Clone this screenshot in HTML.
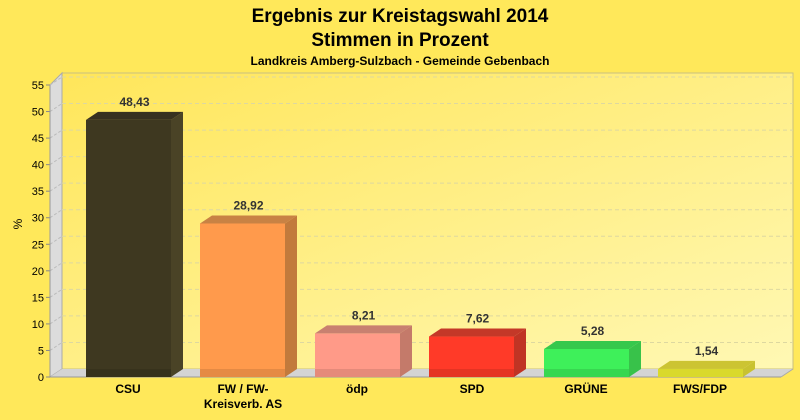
<!DOCTYPE html>
<html><head><meta charset="utf-8"><style>
body{margin:0;background:#ffe85a;}
svg{display:block;font-family:"Liberation Sans",sans-serif;}
</style></head><body>
<svg id="s" width="800" height="420" xmlns="http://www.w3.org/2000/svg">
<defs>
<linearGradient id="bg" x1="0" y1="0" x2="1" y2="1">
<stop offset="0" stop-color="#ffe65a"/><stop offset="1" stop-color="#fff8b4"/>
</linearGradient>
</defs>
<rect width="800" height="420" fill="#ffe85a"/>
<text x="400" y="22" font-size="19" font-weight="bold" text-anchor="middle">Ergebnis zur Kreistagswahl 2014</text>
<text x="400" y="46" font-size="19" font-weight="bold" text-anchor="middle">Stimmen in Prozent</text>
<text x="400" y="65" font-size="12" font-weight="bold" text-anchor="middle">Landkreis Amberg-Sulzbach - Gemeinde Gebenbach</text>
<rect x="62" y="73" width="731" height="296" fill="url(#bg)" stroke="#c8c080" stroke-width="1"/>
<polygon points="50,85 62,73 62,369 50,377" fill="#dcdcdc" stroke="#aaa" stroke-width="1"/>
<polygon points="50,377 62,369 793,369 781,377" fill="#d4d4d4"/>
<line x1="50" y1="377" x2="781" y2="377" stroke="#999"/>
<line x1="781" y1="377" x2="793" y2="369" stroke="#aaa"/>
<g id="grid"></g>
<g id="bars"></g>
<text x="22" y="224" font-size="12" text-anchor="middle" transform="rotate(-90 22 224)">%</text>
<g font-size="12" font-weight="bold" text-anchor="middle">
<text x="128" y="393">CSU</text>
<text x="243" y="393">FW / FW-</text>
<text x="243" y="408">Kreisverb. AS</text>
<text x="357" y="393">ödp</text>
<text x="472" y="393">SPD</text>
<text x="586" y="393">GRÜNE</text>
<text x="700" y="393">FWS/FDP</text>
</g>
</svg>
<script>
var ns="http://www.w3.org/2000/svg";
function el(p,t,a,txt){var e=document.createElementNS(ns,t);for(var k in a)e.setAttribute(k,a[k]);if(txt!=null)e.textContent=txt;p.appendChild(e);return e;}
var g=document.getElementById('grid');
function Y(v){return 377-5.309*v;}
for(var v=0;v<=55;v+=5){var y=Y(v);
 if(v>0){el(g,'line',{x1:62,y1:y-8,x2:793,y2:y-8,stroke:'#ddd8a0','stroke-dasharray':'4,3'});
 el(g,'line',{x1:50,y1:y,x2:62,y2:y-8,stroke:'#bbb','stroke-dasharray':'3,2'});}
 el(g,'line',{x1:46,y1:y,x2:50,y2:y,stroke:'#888'});
 el(g,'text',{x:44,y:y+4,'font-size':11,'text-anchor':'end'},String(v));}
el(g,'line',{x1:50,y1:85,x2:50,y2:377,stroke:'#999'});
var b=document.getElementById('bars');
var d=[[86,48.43,'#3e3820','#4a4326','#373120','48,43'],[200,28.92,'#ff9a4c','#c27a3c','#c88244','28,92'],[315,8.21,'#ff9a88','#c47a6a','#c88070','8,21'],[429,7.62,'#ff3a28','#c03424','#c43828','7,62'],[544,5.28,'#3ef05a','#38c24a','#36c84c','5,28'],[658,1.54,'#f2f232','#c8c230','#ccc432','1,54']];
d.forEach(function(r){var x=r[0],w=85,y=Y(r[1]);
 el(b,'rect',{x:x,y:y,width:w,height:377-y,fill:r[2]});
 el(b,'polygon',{points:(x+w)+','+y+' '+(x+w+12)+','+(y-8)+' '+(x+w+12)+',369 '+(x+w)+',377',fill:r[3]});
 el(b,'polygon',{points:x+','+y+' '+(x+12)+','+(y-8)+' '+(x+w+12)+','+(y-8)+' '+(x+w)+','+y,fill:r[4]});
 el(b,'rect',{x:x,y:369,width:w,height:8,fill:'#000',opacity:0.1});
 el(b,'text',{x:x+w/2+6,y:y-14,'font-size':12,'font-weight':'bold','text-anchor':'middle',fill:'#333'},r[5]);});
</script>
</body></html>
